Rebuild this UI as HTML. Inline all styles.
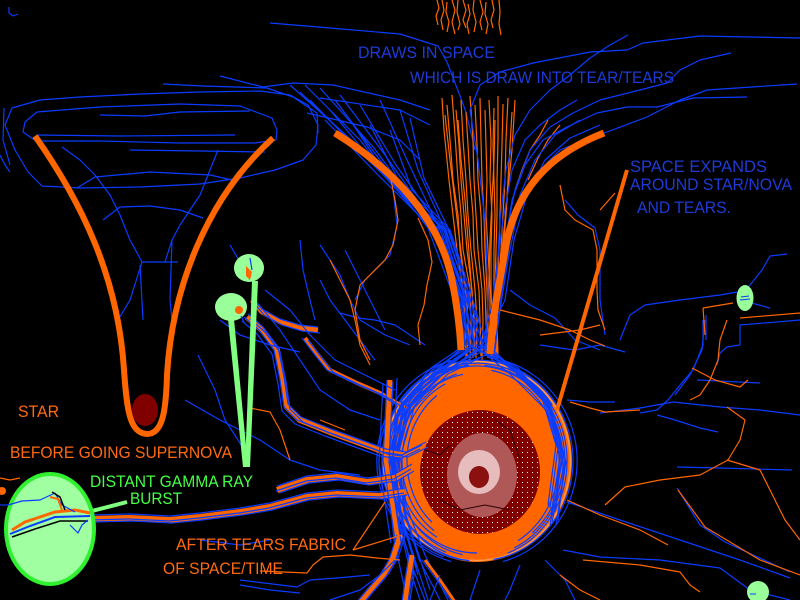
<!DOCTYPE html>
<html><head><meta charset="utf-8">
<style>
html,body{margin:0;padding:0;background:#000;overflow:hidden}
svg{display:block}
text{font-family:"Liberation Sans",Arial,sans-serif;font-size:16.5px}
.b{stroke:#0a3cff;stroke-width:1.2;fill:none;stroke-linejoin:round}
.o{stroke:#ff6600;stroke-width:1.2;fill:none;stroke-linejoin:round}
</style></head>
<body>
<svg width="800" height="600" viewBox="0 0 800 600" xmlns="http://www.w3.org/2000/svg" xmlns:xlink="http://www.w3.org/1999/xlink">
<defs>
 <pattern id="rd" width="5" height="5" patternUnits="userSpaceOnUse"><rect width="5" height="5" fill="#800000"/><rect x="2" y="2" width="1" height="1" fill="#fff"/></pattern>
 <polyline id="bA" points="62,522 90,519 130,518 170,520 200,517 240,512 270,507 307,497 337,494 380,496 405,492"/>
 <polyline id="bB" points="277,490 307,480 337,477 367,482 395,478 412,468"/>
 <polyline id="bC" points="247,317 262,330 277,350 283,380 287,407 300,420 330,432 360,443 385,452 405,455 425,445"/>
 <polyline id="bD" points="252,300 262,312 280,322 300,328 318,330"/>
 <polyline id="bE" points="305,338 318,355 330,370 357,383 380,393 400,405"/>
 <polyline id="bF" points="400,535 392,560 383,575 370,590 360,602"/>
 <polyline id="bG" points="412,555 408,580 405,602"/>
 <polyline id="bH" points="425,560 440,580 455,602"/>
 <polyline id="bI" points="390,380 388,420 386,460 392,500 398,540"/>
</defs>
<rect width="800" height="600" fill="#000"/>

<!-- star / nova -->
<ellipse cx="477" cy="461" rx="95" ry="101" fill="#ff6600"/>
<ellipse cx="477" cy="461" rx="93.5" ry="99.5" fill="none" stroke="#ff9a4a" stroke-width="1.5"/>
<ellipse cx="480" cy="472" rx="60" ry="62" fill="url(#rd)"/>
<ellipse cx="482" cy="475" rx="35" ry="42" fill="#b05858"/>
<ellipse cx="479" cy="472" rx="21" ry="22" fill="#e6bcbc"/>
<ellipse cx="479" cy="477" rx="10" ry="11" fill="#8b1010"/>
<path d="M425,450 L440,455 L450,445 M440,500 L460,510 L485,505 L510,510 M495,420 L510,430 L520,460" stroke="#2a0000" stroke-width="1" fill="none"/>

<!-- left funnel blue loops -->
<g class="b">
<polyline points="12,108 40,100 80,97 140,94 200,92 260,91 290,95 308,105 318,125 316,145 303,160 275,170 240,178 200,184 140,187 80,188 42,186 28,172 15,150 5,125 12,108"/>
<polyline points="4,108 3,140 10,165"/>
<polyline points="0,155 5,165 10,172"/>
<polyline points="37,112 100,107 180,104 240,106 272,118 277,130 276,140 255,143 180,143 100,141 36,141 23,132 25,122 37,112"/>
<polyline points="37,135 120,136 235,135"/>
<polyline points="100,115 145,116 180,112 250,111"/>
<polyline points="130,150 200,151 265,152"/>
<polyline points="77,188 95,177 150,172 210,175 232,180"/>
<polyline points="62,147 80,160 95,175 110,195 120,215 130,240 142,262 165,262 178,262"/>
<polyline points="218,150 210,170 200,195 190,210 180,225 172,240 165,262"/>
<polyline points="103,220 120,207 150,206 180,210 203,218"/>
<polyline points="118,320 130,300 142,262"/>
<polyline points="172,240 170,300 172,320"/>
<polyline points="140,265 143,320"/>
<polyline points="163,84 203,86 267,88 293,97 317,113 318,133"/>
<polyline points="220,76 263,87 293,83 333,85 400,100 430,110"/>
<polyline points="307,113 367,127 400,140 420,160"/>
<polyline points="320,98 400,110 430,125"/>
<!-- top lines -->
<polyline points="270,23 330,28 400,34 438,46 447,62 457,88 466,112 475,150"/>
</g>

<!-- top orange bundle -->
<g class="o">
<polyline points="437,0 439,8 436,16 438,25"/>
<polyline points="442,0 444,10 441,20 443,30"/>
<polyline points="447,2 446,12 449,22 447,32"/>
<polyline points="452,0 455,10 452,22 455,34"/>
<polyline points="458,0 457,12 460,24 458,30"/>
<polyline points="463,0 466,10 463,20 466,28"/>
<polyline points="468,4 470,14 467,24 469,34"/>
<polyline points="474,0 473,10 476,22 474,32"/>
<polyline points="480,0 483,12 480,22 482,30"/>
<polyline points="486,2 485,14 488,24 486,34"/>
<polyline points="492,0 494,10 491,20 493,28"/>
<polyline points="499,0 500,12 499,24 501,35"/>
<!-- funnel orange interior -->
<polyline points="442,98 444,130 449,180 453,215 457,250 463,290 465,320 466,358"/>
<polyline points="447,105 450,140 453,180 458,215 460,250 466,290 468,320 467,356"/>
<polyline points="452,95 455,135 458,180 461,215 463,250 470,288 471,320 470,360"/>
<polyline points="456,110 459,145 461,180 464,215 467,250 472,290 474,320 475,355"/>
<polyline points="461,100 463,140 466,180 468,215 471,250 475,290 477,320 476,358"/>
<polyline points="466,112 468,145 470,180 473,215 474,250 479,290 480,320 481,356"/>
<polyline points="470,96 473,140 474,180 476,215 478,250 482,290 483,320 482,360"/>
<polyline points="475,105 477,145 478,180 481,215 482,250 485,290 486,320 487,355"/>
<polyline points="480,98 481,140 482,180 484,215 485,250 487,290 488,320 488,358"/>
<polyline points="485,110 486,145 487,180 486,215 488,250 490,290 490,320 491,356"/>
<polyline points="489,100 491,140 490,180 492,215 491,250 491,290 492,320 492,360"/>
<polyline points="494,108 493,145 494,180 495,215 494,250 494,290 494,320 495,355"/>
<polyline points="498,96 498,140 497,180 497,215 496,250 495,290 495,320 494,358"/>
<polyline points="503,104 502,145 501,180 500,215 499,250 497,290 496,320 496,356"/>
<polyline points="508,98 506,140 505,180 503,215 501,250 498,290 497,320 497,358"/>
<polyline points="512,112 510,145 508,180 506,215 503,250 500,290 497,320 498,355"/>
<polyline points="458,120 461,160 465,200 468,240 471,280 474,320 473,358"/>
<polyline points="495,120 494,160 492,200 490,240 489,280 487,320 485,356"/>
<polyline points="445,115 450,160 456,210 462,260 467,305 470,350"/>
<polyline points="515,100 512,150 507,200 502,250 498,300 493,352"/>
<polyline points="548,120 540,135 530,150 522,170 515,190"/>
<polyline points="560,125 548,140 538,158 528,180"/>
</g>

<!-- blue bundles from upper left -->
<g class="b">
<polyline points="290,85 357,145 432,230 457,290 466,345 438,368 408,398 394,448 400,510 415,560 428,600"/>
<polyline points="300,92 363,152 436,230 460,290 470,345 510,366 544,400 560,450 556,510"/>
<polyline points="310,100 368,160 440,230 463,290 474,345 436,372 404,402 397,455 405,515 422,565 440,600"/>
<polyline points="320,88 374,148 434,230 458,290 468,345 515,370 548,402 563,455 552,515"/>
<polyline points="330,110 380,170 444,230 462,290 472,345 432,370 400,405 392,460 398,520 410,570 420,600"/>
<polyline points="340,95 385,155 438,230 460,290 476,345 518,368 550,405 565,460 558,520"/>
<polyline points="350,120 390,180 446,230 466,290 478,345 440,372 410,398 399,445 406,505 425,555 448,600"/>
<polyline points="360,105 396,165 442,230 464,290 480,345 520,372 547,398 558,448 550,508"/>
<polyline points="370,125 401,185 448,230 468,290 482,345 442,375 406,410 395,465 400,525 414,575 410,600"/>
<polyline points="380,100 407,160 440,230 462,290 484,345 508,365 542,398 556,445 548,505"/>
<polyline points="390,130 412,190 450,230 470,290 486,345 444,372 412,402 398,452 404,512 420,562"/>
<polyline points="400,110 418,170 445,230 466,290 488,345 512,368 546,402 562,452 555,512"/>
<polyline points="410,118 424,178 449,230 468,290 474,345 437,374 403,406 393,458 401,518 417,568"/>
<polyline points="335,100 380,160 436,230 457,290 465,345 431,368 402,400 390,452 396,512 412,566 425,600"/>
<polyline points="305,85 360,140 428,228 452,292 463,348 434,372 398,410 389,470 397,530"/>
<polyline points="325,120 378,175 442,238 461,298 470,350 426,380 396,420 388,480 394,540 405,590"/>
<!-- from upper right -->
<polyline points="628,35 610,45 590,58 570,75 550,90 530,110 515,135 506,170 500,220 496,290 480,350 445,372 410,405 392,460 402,520 418,575"/>
<polyline points="800,38 700,36 643,43 627,50 590,52 533,63 500,72 480,85 470,110 478,160 485,220 488,290 486,350 515,372 550,408 565,460 552,522"/>
<polyline points="731,53 700,60 680,70 667,83 640,90 600,100 573,113 550,127 530,150 515,190 505,240 498,300 490,350 518,372 552,410 566,462 556,525"/>
<polyline points="797,84 707,90 680,100 647,117 607,132 585,140 560,150 535,175 518,210 508,260 500,310 494,352 447,370 412,402 398,455 406,515 430,590"/>
<polyline points="747,97 693,98 657,107 627,107 597,113 567,127 543,140 525,165 512,200 504,250 497,300 484,350 441,376 403,415 393,470 403,530"/>
<polyline points="577,100 560,110 540,125 525,140 512,170 503,220 495,280 488,350 514,368 548,400 561,450 551,515"/>
<polyline points="580,120 555,135 535,160 520,195 510,240 502,290 495,350 448,374 414,408 399,462 407,522"/>
<polyline points="600,125 570,138 545,160 527,195 514,240 505,300 480,350 510,374 546,410 562,462 550,525"/>
</g>

<!-- arcs around the star -->
<g class="b">
<path d="M446.2,369.8 A90,97 0 0 0 446.2,552.2"/>
<path d="M463.1,374.3 A80,88 0 0 0 437,537.2"/>
<path d="M429.5,374.4 A95,100 0 0 0 460.5,559.5"/>
<path d="M445.3,384 A75,85 0 0 0 434,530.6"/>
<path d="M451.1,360.5 A100,104 0 0 0 451.1,561.5"/>
<path d="M422.4,390.5 A85,92 0 0 0 477,553"/>
<path d="M436.8,395.5 A70,80 0 0 0 432,522.3"/>
<path d="M469,365.4 A92,96 0 0 0 401.7,516.1"/>
<path d="M409.6,396.7 A88,100 0 0 0 469.3,560.6"/>
<path d="M456.8,374.1 A78,90 0 0 0 403.7,491.8"/>
<path d="M392.1,410 A98,102 0 0 0 443.5,556.9"/>
<path d="M448.6,371.7 A83,95 0 0 0 462.6,554.6"/>
<path d="M507.8,553.1 A90,98 0 0 0 507.8,368.9"/>
<path d="M518,540.7 A82,92 0 0 0 491.3,370.4"/>
<path d="M493.7,559.5 A96,100 0 0 0 525,374.4"/>
<path d="M532.3,533 A86,94 0 0 0 532.3,389"/>
<path d="M502.9,561.5 A100,104 0 0 0 502.9,360.5"/>
<path d="M514.2,548 A88,96 0 0 0 484.7,365.4"/>
<path d="M552.3,404.8 A92,98 0 0 0 401.7,404.8"/>
<path d="M532.3,388.2 A86,95 0 0 0 421.7,388.2"/>
<path d="M564,418.3 A96,101 0 0 0 390,418.3"/>
</g>

<!-- thick bands -->
<g fill="none" stroke="#ff6600" stroke-linejoin="round">
<use href="#bA" stroke-width="6"/><use href="#bB" stroke-width="6"/><use href="#bC" stroke-width="6"/>
<use href="#bD" stroke-width="5"/><use href="#bE" stroke-width="4"/><use href="#bF" stroke-width="6"/>
<use href="#bG" stroke-width="5"/><use href="#bH" stroke-width="3"/><use href="#bI" stroke-width="5"/>
</g>
<g fill="none" stroke="#0a3cff" stroke-width="1.2" stroke-linejoin="round">
<use href="#bA" transform="translate(0,-4)"/><use href="#bA" transform="translate(2,3)"/><use href="#bA" transform="translate(-1,1)"/>
<use href="#bB" transform="translate(0,-4)"/><use href="#bB" transform="translate(2,3)"/><use href="#bB" transform="translate(-1,1)"/>
<use href="#bC" transform="translate(-3,0)"/><use href="#bC" transform="translate(3,2)"/><use href="#bC" transform="translate(1,-3)"/><use href="#bC" transform="translate(-5,4)"/>
<use href="#bD" transform="translate(0,-3)"/><use href="#bD" transform="translate(2,3)"/>
<use href="#bE" transform="translate(-3,0)"/><use href="#bE" transform="translate(3,2)"/>
<use href="#bF" transform="translate(-3,0)"/><use href="#bF" transform="translate(3,2)"/><use href="#bF" transform="translate(6,-2)"/>
<use href="#bG" transform="translate(-3,0)"/><use href="#bG" transform="translate(3,2)"/>
<use href="#bH" transform="translate(-3,0)"/>
<use href="#bI" transform="translate(-3,0)"/><use href="#bI" transform="translate(3,2)"/><use href="#bI" transform="translate(7,-2)"/><use href="#bI" transform="translate(-7,3)"/>
</g>

<!-- scattered blue -->
<g class="b">
<polyline points="740,325 800,320"/>
<polyline points="740,325 740,345 727,347 720,353 717,365"/>
<polyline points="703,320 703,345 693,370 680,385 668,400 657,410 640,413"/>
<polyline points="673,402 720,407 760,410 800,415"/>
<polyline points="600,413 640,408 673,402"/>
<polyline points="657,415 675,420 700,428 718,432"/>
<polyline points="677,467 720,468 792,470"/>
<polyline points="677,488 700,525 725,542 790,572"/>
<polyline points="567,502 620,520 680,540 740,560 790,578"/>
<polyline points="563,550 600,557 660,560 720,568 750,590 790,600"/>
<polyline points="545,560 565,580 575,600"/>
<polyline points="705,320 702,350 690,375 675,395"/>
<polyline points="697,380 760,383"/>
<polyline points="620,340 630,315 645,305 680,300 720,295 737,292"/>
<polyline points="787,254 770,256 762,270 750,285 745,290"/>
<polyline points="748,302 770,308"/>
<polyline points="706,315 706,340"/>
<polyline points="565,200 578,215 595,228 600,250 600,300 605,335"/>
<polyline points="567,400 590,402 615,402"/>
<polyline points="540,345 560,348 575,350 600,345 625,352"/>
<polyline points="510,290 530,305 555,318 575,340 600,350"/>
<polyline points="300,240 303,270 310,300 315,320"/>
<polyline points="320,280 330,300 345,320 360,340 375,360"/>
<polyline points="345,250 355,270 365,290 375,310 385,330"/>
<polyline points="230,245 240,262"/>
<polyline points="198,355 215,390 225,420 238,440 250,460"/>
<polyline points="185,400 220,420 260,440 290,460 320,470 360,475"/>
<polyline points="220,320 240,335 270,345 300,352"/>
<polyline points="320,245 330,260 340,275 350,300 360,320 385,335 410,345"/>
<polyline points="393,190 397,225 390,255 365,280 355,300"/>
<polyline points="340,313 358,318 375,320 395,325 410,335 425,345"/>
<polyline points="240,580 297,587 310,580 337,578 370,575"/>
<polyline points="330,600 360,590 380,575 395,560"/>
<polyline points="240,585 270,590 300,593"/>
<polyline points="0,505 15,505"/>
<polyline points="200,540 240,545 270,540"/>
<polyline points="520,565 510,590 505,600"/>
<polyline points="480,570 470,600"/>
<polyline points="440,575 430,600"/>
<polyline points="255,300 280,330 300,360 320,390 350,410 380,420"/>
<polyline points="265,290 290,310 310,335 335,360 365,375 395,390"/>
</g>
<!-- scattered orange -->
<g class="o">
<polyline points="727,407 745,420 740,440 728,460 700,475 660,480 625,487 605,505"/>
<polyline points="727,460 760,470 770,490 785,520 800,540"/>
<polyline points="678,490 705,527 760,560 800,575"/>
<polyline points="567,500 600,515 640,530 668,545"/>
<polyline points="583,560 640,565 680,572 690,585 700,592"/>
<polyline points="560,575 580,590 600,600"/>
<polyline points="727,320 720,340 718,360 710,380 700,395 690,400"/>
<polyline points="692,368 715,380 740,387 748,380"/>
<polyline points="703,308 733,303"/>
<polyline points="703,308 705,335"/>
<polyline points="740,318 800,313"/>
<polyline points="560,185 565,210 575,220 593,230 597,250 597,290 598,310 605,330"/>
<polyline points="615,193 600,210"/>
<polyline points="540,335 580,330 600,325"/>
<polyline points="500,310 540,320 570,330 590,340 605,346"/>
<polyline points="570,402 590,408 605,412 640,410"/>
<polyline points="330,260 340,280 350,300 355,320 360,345 370,365"/>
<polyline points="390,175 395,200 398,220 393,245 385,260 360,285 355,310 360,340 370,360"/>
<polyline points="418,218 428,240 432,262 427,285 424,305 418,325 420,345"/>
<polyline points="250,408 270,412 280,430 290,460"/>
<polyline points="260,571 307,573 313,565 323,557 350,555 377,558 400,560"/>
<polyline points="353,550 385,502"/>
<polyline points="353,550 402,535"/>
<polyline points="0,478 10,480 20,478"/>
<polyline points="320,420 345,430"/>
</g>

<!-- thick orange funnels -->
<path d="M35,136 C80,200 118,275 124,370 C127,412 130,433 147,434 C163,434 166,410 167,375 C172,290 205,200 273,138" stroke="#ff6600" stroke-width="6" fill="none"/>
<ellipse cx="145" cy="410" rx="13" ry="16" fill="#800000"/>
<path d="M335,133 C395,170 440,220 452,280 C458,310 460,330 461,350" stroke="#ff6600" stroke-width="7" fill="none"/>
<path d="M604,133 C560,150 520,180 507,240 C498,290 492,320 490,354" stroke="#ff6600" stroke-width="7" fill="none"/>
<path d="M627,170 L557,410" stroke="#ff6600" stroke-width="4"/>
<circle cx="2" cy="491" r="4" fill="#ff6600"/>

<!-- green items -->
<polygon points="252,281 258,281 250,467 245,467" fill="#80ff80"/>
<polygon points="228,319 234,319 248,467 243,467" fill="#80ff80"/>
<ellipse cx="249" cy="268" rx="15" ry="14" fill="#99ff99"/>
<ellipse cx="231" cy="307" rx="16" ry="14" fill="#99ff99"/>
<path d="M246,266 L252,272 L250,280 L246,276 Z" fill="#ff6600"/>
<circle cx="239" cy="310" r="4" fill="#ff6600"/>
<path d="M250,258 L252,270 M241,316 L244,322" stroke="#0a3cff" stroke-width="1.2"/>
<line x1="92" y1="511" x2="127" y2="502" stroke="#80ff80" stroke-width="4"/>
<ellipse cx="50" cy="529" rx="44" ry="55" fill="#a0ffa0" stroke="#30f030" stroke-width="4"/>
<polyline points="12,530 25,522 40,517 55,512 75,510 90,513" stroke="#ff6600" stroke-width="3" fill="none"/>
<polyline points="10,534 30,526 55,517 90,516" stroke="#0a3cff" stroke-width="2" fill="none"/>
<polyline points="12,537 35,529 60,521 88,521" stroke="#000" stroke-width="1.5" fill="none"/>
<polyline points="8,505 22,501 40,500 55,493 62,505 75,512" class="b"/>
<polyline points="52,492 60,497 65,510" stroke="#000" stroke-width="1.5" fill="none"/>
<polyline points="50,497 58,499 62,510" stroke="#ff6600" stroke-width="2" fill="none"/>
<polyline points="70,525 78,533 82,525 88,520" class="b"/>
<ellipse cx="745" cy="298" rx="8.5" ry="13" fill="#99ff99"/>
<path d="M740,300 L750,299 M741,297 L749,296" stroke="#0a3cff" stroke-width="1"/>
<circle cx="758" cy="592" r="11" fill="#99ff99"/>
<path d="M750,594 L756,594" stroke="#0a3cff" stroke-width="1"/>

<!-- text -->
<g fill="#1e3ad8">
<text x="358" y="58" textLength="137" lengthAdjust="spacingAndGlyphs">DRAWS IN SPACE</text>
<text x="410" y="83" textLength="264" lengthAdjust="spacingAndGlyphs">WHICH IS DRAW INTO TEAR/TEARS</text>
<text x="630" y="172" textLength="137" lengthAdjust="spacingAndGlyphs">SPACE EXPANDS</text>
<text x="630" y="190" textLength="162" lengthAdjust="spacingAndGlyphs">AROUND STAR/NOVA</text>
<text x="637" y="213" textLength="94" lengthAdjust="spacingAndGlyphs">AND TEARS.</text>
</g>
<g fill="#ff6a10">
<text x="18" y="417" textLength="41" lengthAdjust="spacingAndGlyphs">STAR</text>
<text x="10" y="458" textLength="222" lengthAdjust="spacingAndGlyphs">BEFORE GOING SUPERNOVA</text>
<text x="176" y="550" textLength="170" lengthAdjust="spacingAndGlyphs">AFTER TEARS FABRIC</text>
<text x="163" y="574" textLength="120" lengthAdjust="spacingAndGlyphs">OF SPACE/TIME</text>
</g>
<g fill="#44ff44">
<text x="90" y="487" textLength="163" lengthAdjust="spacingAndGlyphs">DISTANT GAMMA RAY</text>
<text x="130" y="504" textLength="52" lengthAdjust="spacingAndGlyphs">BURST</text>
</g>
<path d="M9,7 L9,13 L13,16 L18,14" stroke="#0a3cff" stroke-width="1.2" fill="none"/>
</svg>
</body></html>
